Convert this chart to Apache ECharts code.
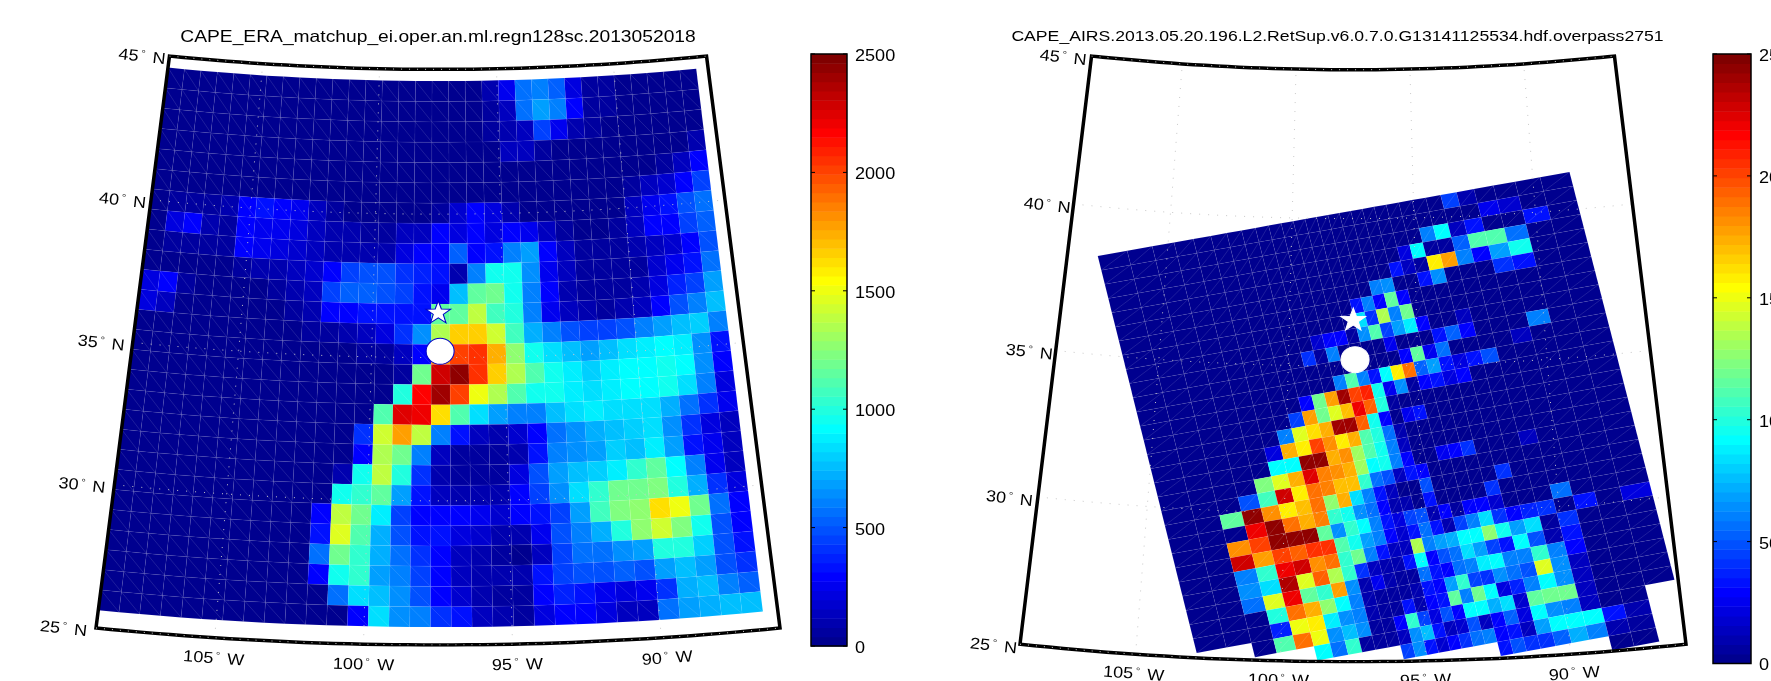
<!DOCTYPE html>
<html><head><meta charset="utf-8">
<style>html,body{margin:0;padding:0;background:#fff}#c{width:1771px;height:681px}</style>
<script src="https://cdn.jsdelivr.net/npm/echarts@6/dist/echarts.min.js"></script></head>
<body><div id="c"></div>
<script>
const eraTitle='CAPE_ERA_matchup_ei.oper.an.ml.regn128sc.2013052018';
const airsTitle='CAPE_AIRS.2013.05.20.196.L2.RetSup.v6.0.7.0.G13141125534.hdf.overpass2751';
const latTicks=[45,40,35,30,25];
const lonTicks=[105,100,95,90];
const barTicks=[0,500,1000,1500,2000,2500];
const sites=[{name:'star',lat:36.6,lon:-97.49},{name:'circle',lat:35.22,lon:-97.42}];

// ERA grid: 32 columns west to east, 27 rows north to south
const eraLonStart=-109, eraLatStart=44.6, eraStep=0.703;
const eraValues=[
[30,30,30,30,30,30,30,30,30,30,30,30,30,30,30,30,30,30,30,100,260,570,620,520,220,60,40,30,30,30,30,30],
[30,30,30,30,30,30,30,30,30,30,30,30,30,30,30,30,30,30,30,60,130,550,680,620,300,60,40,30,30,30,30,30],
[30,30,30,30,30,30,30,30,30,30,30,30,30,30,30,30,30,30,30,50,100,130,450,250,80,40,30,30,30,30,30,30],
[30,30,30,30,30,30,30,30,30,30,30,30,30,30,30,30,30,30,30,30,120,150,70,30,30,30,30,30,30,30,30,90],
[30,30,30,30,30,30,30,30,30,30,30,30,30,30,30,30,30,30,30,30,30,30,30,30,30,30,30,30,30,60,130,280],
[30,30,30,30,30,30,30,30,30,30,30,30,30,30,30,30,30,30,30,30,30,30,30,30,30,30,30,60,130,180,300,450],
[30,60,60,60,80,300,320,280,260,120,60,30,30,30,30,30,70,170,300,230,100,30,30,30,30,30,30,150,270,320,480,560],
[30,220,300,100,70,300,250,240,220,150,110,80,60,60,130,130,300,220,290,220,300,270,130,60,30,30,60,150,300,280,450,520],
[30,60,60,60,60,300,250,200,160,120,100,80,80,100,200,300,300,520,300,320,620,680,300,130,60,60,60,90,120,180,300,500],
[30,30,30,30,30,60,80,80,120,180,300,450,480,470,420,370,320,90,600,950,970,650,260,120,60,60,60,60,180,250,350,550],
[200,300,60,30,30,30,30,60,80,150,460,540,530,490,430,350,250,780,1170,1180,970,620,290,100,60,60,60,100,200,380,430,680],
[200,120,30,30,30,30,30,30,60,90,300,310,320,340,330,340,1150,1150,1380,1070,980,600,250,130,100,60,100,150,300,480,620,780],
[30,30,30,30,30,30,30,30,30,50,70,100,120,200,400,650,1350,1650,1650,1420,1080,720,600,500,450,430,500,620,670,750,820,600],
[30,30,30,30,30,30,30,30,30,30,30,30,50,60,120,300,1800,2000,2050,1720,1280,950,830,780,700,750,830,880,900,880,640,350],
[30,30,30,30,30,30,30,30,30,30,30,30,30,30,70,1190,2300,2450,2050,1650,1350,1120,950,880,800,880,900,930,950,900,650,300],
[30,30,30,30,30,30,30,30,30,30,30,30,30,30,1000,2180,2400,2000,1520,1330,1100,950,950,870,830,880,900,930,950,830,620,220],
[30,30,30,30,30,30,30,30,30,30,30,30,30,1100,2250,2200,1620,1120,830,670,600,620,760,830,880,830,830,850,720,550,400,250],
[30,30,30,30,30,30,30,30,30,30,30,30,400,1420,1780,1380,620,320,130,100,190,300,580,650,730,780,800,850,660,420,200,120],
[30,30,30,30,30,30,30,30,30,30,30,30,300,1350,1180,600,120,60,60,60,90,320,600,650,700,800,750,880,680,350,250,130],
[30,30,30,30,30,30,30,30,30,30,30,80,950,1370,980,420,80,60,60,60,220,500,680,750,800,880,1030,1150,920,620,250,150],
[30,30,30,30,30,30,30,30,30,30,30,970,1030,1150,680,350,120,90,80,80,310,450,650,850,1020,1180,1180,1230,1000,720,400,200],
[30,30,30,30,30,30,30,30,30,30,280,1370,1200,880,450,310,300,280,240,180,310,320,430,700,1080,1230,1270,1620,1500,1180,550,300],
[30,30,30,30,30,30,30,30,30,30,350,1480,1100,740,500,350,320,230,190,110,80,250,500,600,720,1000,1250,1420,1220,950,500,300],
[30,30,30,30,30,30,30,30,30,30,560,1200,1020,720,550,420,300,130,90,70,30,130,450,550,560,650,680,1000,980,800,500,350],
[30,30,30,30,30,30,30,30,30,30,300,950,1050,680,600,450,300,130,100,90,80,330,430,480,470,520,470,700,780,680,480,420],
[30,30,30,30,30,30,30,30,30,30,30,550,850,780,650,500,300,170,100,70,60,300,380,320,260,220,240,400,720,780,620,530],
[30,30,30,30,30,30,30,30,30,30,30,30,300,850,650,600,400,320,120,100,60,200,300,280,220,150,130,550,680,720,760,770]
];

// AIRS swath: runs of [row, first column, values...]; unlisted cells hold airsBase
const airsBase=20;
const airsLastRow=[27,27,28,28,28,29,29,29,29,29,29,30,30,30,30,30,30,30,30,31,31,31,31,31,31,31,32,32,28];
const airsRuns=[
[0,23,450,100],[1,25,250,170],[2,21,600,900,120,320],[2,27,330],
[3,19,220,900,40,40,530,1100,1120,550],[4,18,320,120,40,1600,1760,620,300,700,950],
[5,16,600,650],[5,20,320,650],[5,25,420,330],[6,14,350,620,300,1150,280],[7,14,850,420,1350,600,1200],
[8,10,170,280,300,60,650,1100,450,680,880,300],[8,22,130],[9,9,420,60,620],[9,16,270],[9,20,320,520,300],[9,26,600],
[10,17,300,1150,270,580],[10,25,140],[11,11,600,1100,620,350,900,1600,1900,520,680,320,200,350,480],
[12,8,300,1200,1780,2400,2000,2100,950,250,650,60,300,350,220,300],[13,7,450,1780,1200,1450,1700,2200,1950,1000,60],
[14,6,600,1480,1620,1750,2400,2400,1950,950,280,30,250,330],[15,5,200,1750,1600,2000,1800,1580,1750,1100,1000,550,80],
[16,5,900,900,2450,2450,1750,1800,1300,1100,950,620,120],[17,4,1220,1480,1720,2250,1850,1800,1720,1300,900,950,600,300],
[17,18,260,300,420],[17,24,130],[18,3,480,1080,2300,1600,1880,1850,1680,1700,1050,550,500,120,350,300],
[19,2,1150,2450,1800,1600,1680,1900,1250,1750,850,600,320,130],[19,16,480],[19,22,400],
[20,3,2200,2450,1900,1750,1850,1050,950,650,550,300,100,80],[20,16,330],[20,21,420],
[21,2,1800,2000,2450,2450,2450,1150,650,1050,900,600,320,200,450,500,100,300,60,300,310,180],[21,25,550],
[22,2,2300,1780,2000,1950,2050,2050,1100,950,700,600,300,180,330,550,330,100,450,620,850,420,300,370,400],[22,26,320],[22,28,200],
[23,2,620,1050,2200,2300,1800,1900,1050,1200,620,330,150,130,1350,620,680,720,900,930,1250,950,700,850,60,420],
[24,2,650,830,2350,1480,1950,1350,1050,400,130,100,80,330,900,300,500,550,850,700,450,350,900,480,100,320],
[25,2,550,1480,2200,1150,1050,1780,650,100,240,80,70,70,550,350,300,550,620,870,900,600,600,1050,620,300],
[26,3,1000,1900,1750,1250,900,620,100,70,70,70,80,320,300,680,1050,450,400,650,550,500,1450,650,150],
[27,3,370,1520,1600,870,650,600,80,70,70,320,100,300,320,1150,620,1200,900,200,370,620,900,650,120],
[28,3,1100,1900,1500,650,780,650,60,60,300,1050,450,230,500,300,920,900,720,850,180,1150,1200,1200,150],
[29,5,900,550,1050,60,50,50,150,650,750,350,150,180,500,130,300,520,200,900,650,600,130],
[30,11,450,650,350,180,280,400,550,600,300,350,150,680,920,900,900,330,80],
[31,19,330,500,420,400,520,720,600,100,70]
];
// swath corners (lat, lon), extended past the map edge where cells are cut
const airsCorners={tl:[38.33,-107.78],tr:[41.27,-88.45],bl:[22.82,-102.17],br:[25.26,-85.865]};
const airsRows=33, airsCols=29, scanStep=3.3, scanStart=-47.85;

const MAP={latMin:25,latMax:45,lonMin:-109,lonMax:-86,lon0:-97.5,n:0.562};
const RAD=Math.PI/180, SX=1.13;
function proj(lat,lon){
  const r=Math.pow(Math.tan(67.5*RAD)/Math.tan((45+lat/2)*RAD),MAP.n);
  const t=MAP.n*(lon-MAP.lon0)*RAD;
  return [r*Math.sin(t),r*Math.cos(t)];
}
const xHalf=proj(MAP.latMin,MAP.lonMax)[0];
const yTop=proj(MAP.latMax,MAP.lonMax)[1], yBot=proj(MAP.latMin,MAP.lon0)[1];

function jet(v){
  const idx=Math.min(63,Math.max(0,Math.floor(v/2500*64)));
  const t=(idx+1)/64, c=x=>Math.round(255*Math.max(0,Math.min(1,1.5-Math.abs(x))));
  return `rgb(${c(4*t-3)},${c(4*t-2)},${c(4*t-1)})`;
}
const EDGE='rgba(255,255,255,0.07)', SEAM='rgba(255,255,255,0.20)';
function cellGroup(api,corners,value,diag){
  const pts=corners.map(p=>api.coord(p));
  const a=diag==='\\'?pts[0]:pts[3], b=diag==='\\'?pts[2]:pts[1];
  return {type:'group',children:[
    {type:'polygon',shape:{points:pts},style:{fill:jet(value),stroke:EDGE,lineWidth:0.6},silent:true},
    {type:'line',shape:{x1:a[0],y1:a[1],x2:b[0],y2:b[1]},style:{stroke:SEAM,lineWidth:0.6},silent:true}
  ]};
}
// ERA cells
const eraData=[];
eraValues.forEach((row,r)=>row.forEach((v,c)=>eraData.push([r,c,v])));
function eraRender(params,api){
  const r=api.value(0),c=api.value(1),v=api.value(2);
  const lat0=eraLatStart-r*eraStep,lat1=lat0-eraStep,lon0=eraLonStart+c*eraStep,lon1=lon0+eraStep;
  return cellGroup(api,[proj(lat0,lon0),proj(lat0,lon1),proj(lat1,lon1),proj(lat1,lon0)],v,'\\');
}
// AIRS mesh: scan geometry gives across-track spacing
const k=1.1107;
const g=a=>Math.asin(k*Math.sin(a*RAD))-a*RAD;
const colFrac=[];
for(let i=0;i<=airsCols;i++){colFrac.push((g(scanStart+scanStep*i)-g(scanStart))/(g(-scanStart)-g(scanStart)));}
const C={tl:proj(...airsCorners.tl),tr:proj(...airsCorners.tr),bl:proj(...airsCorners.bl),br:proj(...airsCorners.br)};
function meshPt(r,c){
  const v=r/airsRows,u=colFrac[c];
  return [0,1].map(i=>(1-v)*((1-u)*C.tl[i]+u*C.tr[i])+v*((1-u)*C.bl[i]+u*C.br[i]));
}
const airsGrid=airsLastRow.map(last=>new Array(last+1).fill(airsBase));
airsRuns.forEach(run=>{const [r,c0,...vals]=run;vals.forEach((v,i)=>{if(airsGrid[c0+i]&&r<airsGrid[c0+i].length)airsGrid[c0+i][r]=v;});});
const airsData=[];
airsGrid.forEach((col,c)=>col.forEach((v,r)=>airsData.push([r,c,v])));
function airsRender(params,api){
  const r=api.value(0),c=api.value(1),v=api.value(2);
  return cellGroup(api,[meshPt(r,c),meshPt(r,c+1),meshPt(r+1,c+1),meshPt(r+1,c)],v,'/');
}
// graticule and frame from the projection
function parallel(lat){const a=[];for(let l=MAP.lonMin;l<=MAP.lonMax+1e-6;l+=0.5)a.push(proj(lat,l));return a;}
function meridian(lon){const a=[];for(let l=MAP.latMin;l<=MAP.latMax+1e-6;l+=0.5)a.push(proj(l,lon));return a;}
const FONT='"Liberation Sans",Arial,sans-serif';
function geoText(api,px,py,rot,n,h,align){
  return {type:'text',x:px,y:py,scaleX:SX,rotation:rot,silent:true,style:{
    text:`{a|${n}}{b|°} {a|${h}}`,align:align,verticalAlign:'middle',
    rich:{a:{fontSize:16,fontFamily:FONT,fill:'#000',padding:[0,1,0,1]},
          b:{fontSize:10,fontFamily:FONT,fill:'#333',verticalAlign:'top',padding:[0,2,0,1]}}
  }};
}
const starPath='path://M0,-10L2.35,-3.24L9.51,-3.09L3.8,1.24L5.88,8.09L0,4L-5.88,8.09L-3.8,1.24L-9.51,-3.09L-2.35,-3.24Z';
const series=[], grids=[], xAxes=[], yAxes=[];
function panel(idx,rect,data,render,latDx,latDy,lonDy,lonDx,border){
  grids.push({left:rect.left,top:rect.top,width:rect.width,height:rect.height,show:false});
  xAxes.push({type:'value',gridIndex:idx,min:-xHalf,max:xHalf,show:false});
  yAxes.push({type:'value',gridIndex:idx,min:yTop,max:yBot,inverse:true,show:false});
  const base={xAxisIndex:idx,yAxisIndex:idx,animation:false,silent:true};
  series.push(Object.assign({type:'custom',name:'cells'+idx,data:data,renderItem:render,z:2,clip:false,encode:{x:0,y:1}},base));
  const dots={color:'#c9c9c9',width:1,type:[1,8]};
  lonTicks.forEach(l=>series.push(Object.assign({type:'line',data:meridian(-l),showSymbol:false,lineStyle:dots,z:3},base)));
  [30,35,40].forEach(l=>series.push(Object.assign({type:'line',data:parallel(l),showSymbol:false,lineStyle:dots,z:3},base)));
  const frame=[...parallel(MAP.latMax),...meridian(MAP.lonMax).reverse(),...parallel(MAP.latMin).reverse(),...meridian(MAP.lonMin)];
  series.push(Object.assign({type:'line',data:frame,showSymbol:false,lineStyle:{color:'#000',width:3.5,cap:'square',join:'miter'},z:4},base));
  [MAP.latMax,MAP.latMin].forEach(l=>series.push(Object.assign({type:'line',data:parallel(l),showSymbol:false,lineStyle:{color:'#fff',width:0.8,type:[1,7]},z:5},base)));
  series.push(Object.assign({type:'scatter',data:[proj(sites[0].lat,sites[0].lon)],symbol:starPath,symbolSize:[25,22],itemStyle:{color:'#fff',opacity:1,borderColor:border,borderWidth:1},z:6},base));
  series.push(Object.assign({type:'scatter',data:[proj(sites[1].lat,sites[1].lon)],symbol:'circle',symbolSize:[28,26],itemStyle:{color:'#fff',opacity:1,borderColor:border,borderWidth:1},z:6},base));
  series.push(Object.assign({type:'custom',data:latTicks.map(l=>[l]),z:7,clip:false,encode:{x:[],y:[]},renderItem(p,api){
    const lat=api.value(0),q=api.coord(proj(lat,MAP.lonMin));
    return geoText(api,q[0]-2+(latDx[lat]||0),q[1]+latDy,MAP.n*(MAP.lonMin-MAP.lon0)*RAD,lat,'N','right');
  }},base));
  series.push(Object.assign({type:'custom',data:lonTicks.map(l=>[l]),z:7,clip:false,encode:{x:[],y:[]},renderItem(p,api){
    const lon=-api.value(0),q=api.coord(proj(MAP.latMin,lon));
    return geoText(api,q[0]+(lonDx[api.value(0)]||0),q[1]+lonDy,MAP.n*(lon-MAP.lon0)*RAD,api.value(0),'W','center');
  }},base));
}
panel(0,{left:96,top:56,width:684,height:589},eraData,eraRender,{45:-1,40:-2,35:-5,30:-6,25:-6},4,21,{105:-1,100:0,95:5,90:6},'#0000c8');
panel(1,{left:1020,top:56,width:666,height:605.7},airsData,airsRender,{45:-2,30:-2},5,20,{105:-2,100:-2,95:0,90:4},'#ffffff');

// colour bars
const levels=[];for(let i=0;i<64;i++)levels.push(i);
function bar(idx,rect){
  grids.push({left:rect.left,top:rect.top,width:rect.width,height:rect.height,show:false});
  xAxes.push({type:'value',gridIndex:idx,min:0,max:1,show:false});
  yAxes.push({type:'value',gridIndex:idx,min:0,max:2500,interval:500,show:false});
  const base={xAxisIndex:idx,yAxisIndex:idx,animation:false,silent:true,clip:false};
  series.push(Object.assign({type:'custom',data:levels.map(i=>[0,i]),encode:{x:0,y:1},z:2,renderItem(p,api){
    const i=api.value(1),a=api.coord([0,i*2500/64]),b=api.coord([1,(i+1)*2500/64]);
    return {type:'rect',shape:{x:a[0],y:b[1],width:b[0]-a[0],height:a[1]-b[1]+0.5},style:{fill:jet(i*2500/64+1)}};
  }},base));
  series.push(Object.assign({type:'custom',data:barTicks.map(v=>[1,v]),encode:{x:0,y:1},z:3,renderItem(p,api){
    const v=api.value(1),l=api.coord([0,v]),r=api.coord([1,v]);
    const kids=[
      {type:'line',shape:{x1:l[0],y1:l[1],x2:l[0]+4,y2:l[1]},style:{stroke:'#000',lineWidth:1}},
      {type:'line',shape:{x1:r[0],y1:r[1],x2:r[0]-4,y2:r[1]},style:{stroke:'#000',lineWidth:1}},
      {type:'text',x:r[0]+8,y:l[1]+2.5,scaleX:SX,style:{text:String(v),fontSize:16,fontFamily:FONT,fill:'#000',align:'left',verticalAlign:'middle'}}
    ];
    if(v===0){const t=api.coord([1,2500]);kids.push({type:'rect',shape:{x:l[0],y:t[1],width:r[0]-l[0],height:l[1]-t[1]},style:{fill:'none',stroke:'#000',lineWidth:1.5}});}
    return {type:'group',children:kids};
  }},base));
}
bar(2,{left:811,top:54,width:36,height:592});
bar(3,{left:1713,top:54,width:38,height:609.5});

const titleStyles=[{text:eraTitle,x:438,font:16.5,sx:1.166},{text:airsTitle,x:1337.5,font:15.5,sx:1.137}];
const chart=echarts.init(document.getElementById('c'),null,{renderer:'canvas'});
chart.setOption({
  backgroundColor:'#fff',animation:false,tooltip:{show:false},
  grid:grids,xAxis:xAxes,yAxis:yAxes,series:series,
  graphic:titleStyles.map(t=>({type:'text',x:t.x,y:37,scaleX:t.sx,silent:true,z:10,
    style:{text:t.text,fontSize:t.font,fontFamily:FONT,fill:'#000',align:'center',verticalAlign:'middle'}}))
});
</script></body></html>
